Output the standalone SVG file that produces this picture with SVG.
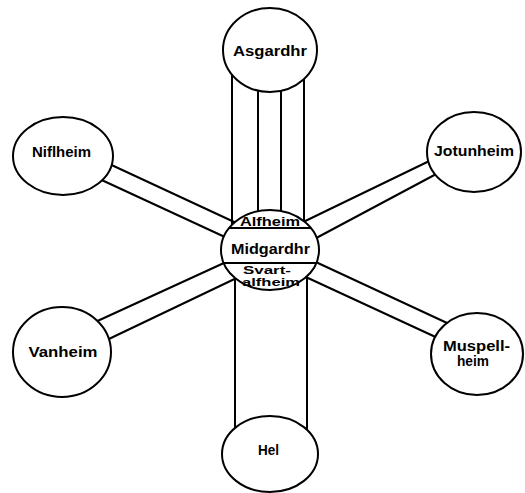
<svg xmlns="http://www.w3.org/2000/svg" width="525" height="493" viewBox="0 0 525 493">
<style>
.c line{stroke:#000;stroke-width:2;stroke-linecap:round}
.n ellipse{fill:#fff;stroke:#000;stroke-width:2}
.n line{stroke:#000;stroke-width:2}
text{font-family:"Liberation Sans",Arial,sans-serif;font-weight:bold;fill:#000;text-anchor:middle}
.o{font-size:14px}
</style>
<rect width="525" height="493" fill="#fff"/>
<g id="connectors" class="c">
<line x1="232" y1="50" x2="232" y2="250"/>
<line x1="258" y1="50" x2="258" y2="250"/>
<line x1="281" y1="50" x2="281" y2="250"/>
<line x1="304" y1="50" x2="304" y2="250"/>
<line x1="235" y1="250" x2="235" y2="454"/>
<line x1="307" y1="250" x2="307" y2="454"/>
<line x1="90" y1="155" x2="245" y2="227"/>
<line x1="80" y1="170" x2="240" y2="244"/>
<line x1="450" y1="151" x2="297" y2="225"/>
<line x1="455" y1="164" x2="305" y2="244"/>
<line x1="237" y1="257" x2="80" y2="329"/>
<line x1="245" y1="274" x2="90" y2="348"/>
<line x1="305" y1="257" x2="460" y2="329"/>
<line x1="295" y1="272" x2="455" y2="346"/>
</g>
<g id="asgardhr" class="n"><ellipse cx="270" cy="50" rx="47" ry="42"/><text class="o" x="270" y="56" textLength="74" lengthAdjust="spacingAndGlyphs">Asgardhr</text></g>
<g id="niflheim" class="n"><ellipse cx="63" cy="156" rx="50" ry="39"/><text class="o" x="61.5" y="157" textLength="59" lengthAdjust="spacingAndGlyphs">Niflheim</text></g>
<g id="jotunheim" class="n"><ellipse cx="474" cy="152" rx="47" ry="40"/><text class="o" x="474" y="156" textLength="80" lengthAdjust="spacingAndGlyphs">Jotunheim</text></g>
<g id="vanheim" class="n"><ellipse cx="62" cy="352" rx="49" ry="45"/><text class="o" x="63" y="357" textLength="69" lengthAdjust="spacingAndGlyphs">Vanheim</text></g>
<g id="muspellheim" class="n"><ellipse cx="477" cy="354" rx="46" ry="41"/><text class="o" x="476.5" y="351" textLength="67" lengthAdjust="spacingAndGlyphs">Muspell-</text><text class="o" x="473" y="366" textLength="32" lengthAdjust="spacingAndGlyphs">heim</text></g>
<g id="hel" class="n"><ellipse cx="270" cy="454" rx="48" ry="38"/><text class="o" x="268.5" y="455" textLength="21" lengthAdjust="spacingAndGlyphs">Hel</text></g>
<g id="midgardhr" class="n">
<ellipse cx="270" cy="250" rx="49" ry="40"/>
<line x1="229" y1="228" x2="311" y2="228"/>
<line x1="223.7" y1="263" x2="316.3" y2="263"/>
<text x="270" y="226" font-size="12.5" textLength="60" lengthAdjust="spacingAndGlyphs">Alfheim</text>
<text x="270.5" y="254" font-size="15" textLength="79" lengthAdjust="spacingAndGlyphs">Midgardhr</text>
<text x="267" y="274" font-size="11" textLength="48" lengthAdjust="spacingAndGlyphs">Svart-</text>
<text x="271" y="286" font-size="11" textLength="58" lengthAdjust="spacingAndGlyphs">alfheim</text>
</g>
</svg>
